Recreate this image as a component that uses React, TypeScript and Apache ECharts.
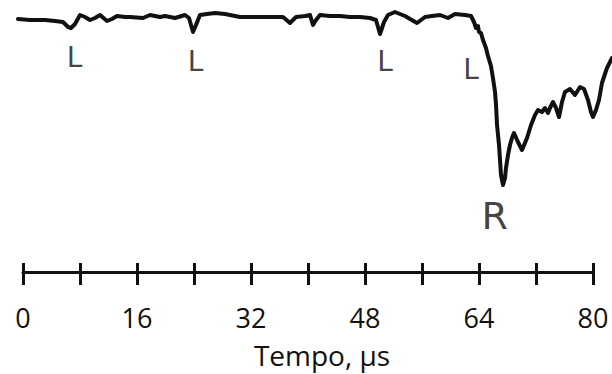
import React, { useEffect, useRef } from "react";
import * as echarts from "echarts";

// Time (µs) and relative signal amplitude (arbitrary units, 0 = baseline) of the trace
const timeUs = [
  -0.7, 0.98, 3.09, 4.49, 5.61, 6.32, 6.74, 7.3, 8.0, 8.7, 9.4, 10.11, 10.81, 11.79, 12.49, 13.19,
  14.32, 15.02, 16.84, 17.82, 19.23, 19.93, 21.33, 22.74, 23.3, 23.86, 24.28, 24.84, 25.82, 26.95,
  28.35, 30.46, 33.26, 35.37, 36.49, 37.47, 38.32, 39.58, 40.28, 40.7, 41.12, 41.68, 43.09, 44.49,
  45.89, 47.3, 48.7, 49.54, 50.11, 50.67, 51.23, 52.21, 53.61, 54.32, 55.3, 56.42, 57.4, 58.53,
  59.65, 60.63, 62.04, 62.88, 63.3, 63.58, 63.86, 64.0, 64.28, 64.56, 64.98, 65.26, 65.68, 65.96,
  66.25, 66.39, 66.53, 66.81, 66.95, 67.09, 67.37, 67.65, 67.79, 68.07, 68.35, 68.63, 68.91, 69.47,
  70.04, 70.74, 71.3, 71.86, 72.28, 72.84, 73.26, 73.68, 73.96, 74.39, 74.81, 75.23, 75.65, 76.07,
  76.77, 77.47, 78.18, 78.74, 79.3, 79.72, 80.0, 80.42, 80.84, 81.26, 81.96, 82.67,
];
const amplitude = [
  -2, -3, -3, -4, -5, -10, -11, -7, 2, 0, -3, -1, 2, -4, -2, 1,
  0, 0, -1, 2, 0, 1, -1, 2, -1, -15, -8, 2, 3, 4,
  3, 0, 0, 0, 0, -6, 0, 1, 2, -8, -3, 2, 1, 1,
  0, 0, -1, -3, -17, -5, 2, 5, 1, -2, -6, 0, 1, 2,
  -1, 3, 2, 1, -5, -11, -9, -15, -16, -23, -31, -39, -49, -61,
  -75, -88, -108, -128, -143, -158, -168, -161, -151, -138, -128, -121, -116, -125,
  -133, -121, -108, -98, -93, -95, -91, -96, -91, -85, -91, -100, -85, -75,
  -72, -78, -70, -72, -83, -95, -100, -93, -83, -66, -51, -41,
];

// Annotations: label, time (µs), amplitude position
const markLabels = ["L", "L", "L", "L", "R"];
const markTimes = [7.23, 24.2, 50.8, 62.9, 66.2];
const markAmps = [-40.5, -44, -44, -52, -199];

// Axis
const axisMin = 0;
const axisMax = 80;
const tickStep = 8;
const labelStep = 16;
const axisTitle = "Tempo, µs";

// Plot window of the trace (µs at the left and right edges of the picture)
const traceMin = -3.228;
const traceMax = 82.667;

export default function App() {
  const ref = useRef<HTMLDivElement>(null);
  useEffect(() => {
    if (!ref.current) return;
    const chart = echarts.init(ref.current, undefined, { renderer: "svg" });
    const trace = timeUs.map((t, i) => [t, amplitude[i]]);
    const marks = markLabels.map((n, i) => ({
      name: n,
      value: [markTimes[i], markAmps[i]],
      label: {
        fontSize: n === "R" ? 38 : 28,
      },
    }));
    const hiddenY = {
      type: "value",
      min: -255,
      max: 17,
      show: false,
      splitLine: { show: false },
    };
    chart.setOption({
      animation: false,
      backgroundColor: "#ffffff",
      grid: [
        { left: 23, right: 19, top: 0, bottom: 102, containLabel: false },
        { left: 0, right: 0, top: 0, bottom: 102, containLabel: false },
      ],
      xAxis: [
        {
          type: "value",
          gridIndex: 0,
          position: "bottom",
          min: axisMin,
          max: axisMax,
          interval: tickStep,
          splitLine: { show: false },
          axisLine: { show: true, onZero: false, lineStyle: { color: "#111", width: 3 } },
          axisTick: { show: true, inside: false, length: 13, lineStyle: { color: "#111", width: 3 } },
          axisLabel: {
            show: true,
            margin: 32,
            fontFamily: "Open Sans",
            fontSize: 27,
            color: "#111",
            formatter: (v: number) => (v % labelStep === 0 ? String(v) : ""),
          },
        },
        {
          type: "value",
          gridIndex: 0,
          position: "bottom",
          offset: 0,
          min: axisMin,
          max: axisMax,
          interval: tickStep,
          splitLine: { show: false },
          axisLine: { show: false, onZero: false },
          axisTick: { show: true, inside: true, length: 9, lineStyle: { color: "#111", width: 3 } },
          axisLabel: { show: false },
        },
        {
          type: "value",
          gridIndex: 1,
          min: traceMin,
          max: traceMax,
          show: false,
          splitLine: { show: false },
        },
      ],
      yAxis: [
        { ...hiddenY, gridIndex: 0 },
        { ...hiddenY, gridIndex: 1 },
      ],
      series: [
        {
          type: "line",
          data: trace,
          xAxisIndex: 2,
          yAxisIndex: 1,
          showSymbol: false,
          symbol: "none",
          silent: true,
          lineStyle: { color: "#111", width: 4, join: "round", cap: "round" },
        },
        {
          type: "scatter",
          data: marks,
          xAxisIndex: 2,
          yAxisIndex: 1,
          symbolSize: 0,
          silent: true,
          label: {
            show: true,
            position: "inside",
            formatter: "{b}",
            fontFamily: "DejaVu Sans",
            color: "#111",
          },
        },
      ],
      graphic: [
        {
          type: "text",
          x: 322,
          y: 355,
          style: {
            text: axisTitle,
            fontFamily: "Open Sans",
            fontSize: 28,
            fill: "#111",
            textAlign: "center",
            textVerticalAlign: "middle",
          },
        },
      ],
    });
    return () => chart.dispose();
  }, []);
  return (
    <div
      ref={ref}
      style={{ position: "fixed", left: 0, top: 0, width: 612, height: 374, background: "#fff" }}
    />
  );
}
